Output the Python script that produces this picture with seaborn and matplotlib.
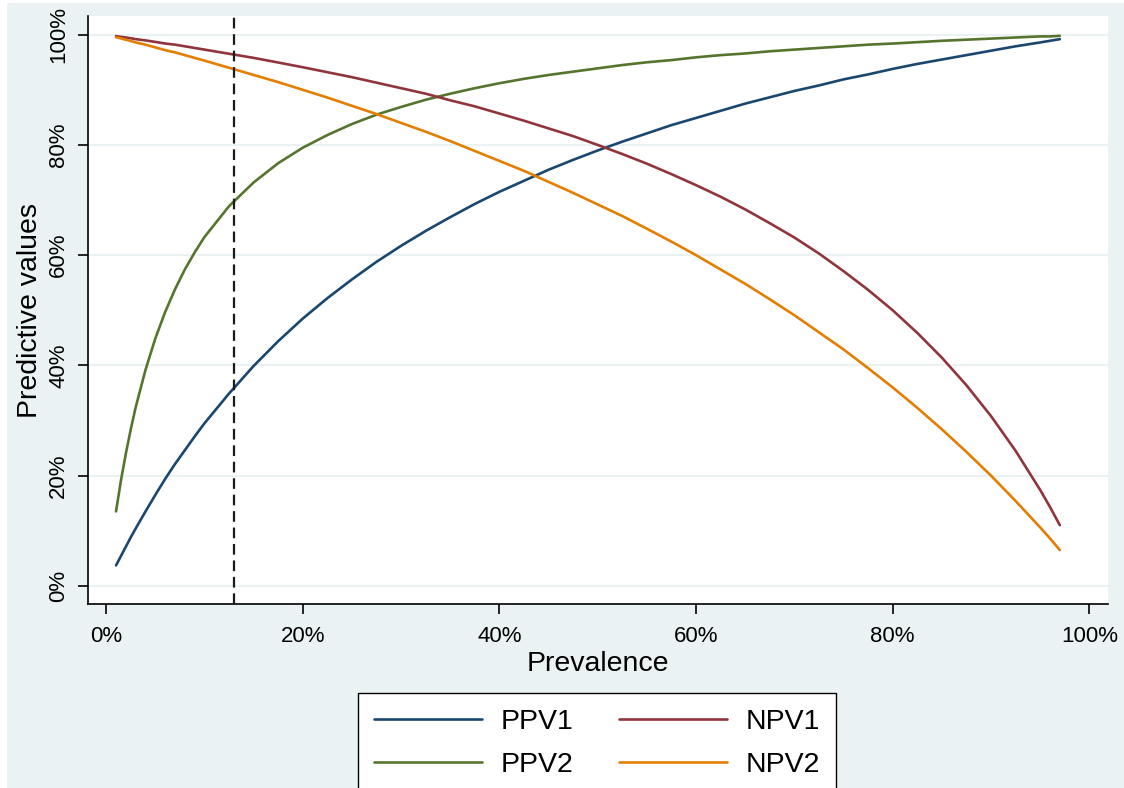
import matplotlib
matplotlib.use("Agg")
import matplotlib.pyplot as plt
from matplotlib.patches import Rectangle
from matplotlib.lines import Line2D
import seaborn as sns
import pandas as pd

# Prevalence (%) sample points
prevalence = [1, 1.5, 2, 2.5, 3, 4, 5, 6, 7, 8, 9, 10,
              12.5, 15, 17.5, 20, 22.5, 25, 27.5, 30, 32.5, 35, 37.5, 40, 42.5, 45,
              47.5, 50, 52.5, 55, 57.5, 60, 62.5, 65, 67.5, 70, 72.5, 75, 77.5, 80,
              82.5, 85, 87.5, 90, 92.5, 95, 96, 97]

ppv1 = [3.7, 5.4, 7.1, 8.8, 10.4, 13.5, 16.5, 19.4, 22.1, 24.6, 27.1, 29.5,
        34.9, 39.9, 44.4, 48.5, 52.2, 55.6, 58.8, 61.7, 64.4, 66.9, 69.3, 71.5, 73.5, 75.5,
        77.3, 79.0, 80.6, 82.1, 83.6, 84.9, 86.2, 87.5, 88.65, 89.8, 90.8, 91.9, 92.8, 93.8,
        94.7, 95.5, 96.3, 97.1, 97.9, 98.6, 98.9, 99.2]
ppv2 = [13.5, 19.1, 24.0, 28.4, 32.4, 39.2, 44.9, 49.7, 53.8, 57.4, 60.5, 63.3,
        68.9, 73.2, 76.7, 79.5, 81.8, 83.8, 85.5, 86.9, 88.2, 89.3, 90.3, 91.2, 92.0, 92.7,
        93.3, 93.9, 94.5, 95.0, 95.4, 95.9, 96.3, 96.6, 97.0, 97.3, 97.6, 97.9, 98.2, 98.4,
        98.65, 98.9, 99.1, 99.3, 99.5, 99.7, 99.7, 99.8]
npv1 = [99.75, 99.62, 99.5, 99.36, 99.2, 98.97, 98.7, 98.4, 98.2, 97.9, 97.6, 97.3,
        96.55, 95.8, 94.96, 94.1, 93.2, 92.3, 91.3, 90.3, 89.3, 88.1, 87.0, 85.7, 84.4, 83.0,
        81.6, 80.0, 78.35, 76.6, 74.7, 72.7, 70.6, 68.3, 65.8, 63.2, 60.3, 57.1, 53.7, 50.0,
        45.9, 41.4, 36.4, 30.8, 24.5, 17.4, 14.3, 11.0]
npv2 = [99.55, 99.33, 99.1, 98.87, 98.6, 98.2, 97.7, 97.2, 96.8, 96.3, 95.8, 95.3,
        94.0, 92.7, 91.4, 90.0, 88.6, 87.1, 85.6, 84.0, 82.4, 80.7, 78.9, 77.1, 75.3, 73.3,
        71.3, 69.2, 67.1, 64.8, 62.45, 60.0, 57.4, 54.8, 52.0, 49.1, 46.0, 42.9, 39.5, 36.0,
        32.3, 28.4, 24.3, 20.0, 15.4, 10.6, 8.6, 6.5]

series_names = ["PPV1", "PPV2", "NPV1", "NPV2"]
series_colors = ["#1a476f", "#55752f", "#90353b", "#e37e00"]
cutoff = 13
tick_values = [0, 20, 40, 60, 80, 100]
tick_labels = ["0%", "20%", "40%", "60%", "80%", "100%"]

frames = []
for name, vals in zip(series_names, [ppv1, ppv2, npv1, npv2]):
    frames.append(pd.DataFrame({"Prevalence": prevalence, "Value": vals, "Series": name}))
df = pd.concat(frames, ignore_index=True)

sns.set_style("white")
plt.rcParams["font.family"] = ["Liberation Sans", "DejaVu Sans"]
plt.rcParams["text.color"] = "black"
plt.rcParams["axes.labelcolor"] = "black"

W, H = 1124, 788
fig = plt.figure(figsize=(W / 100, H / 100), dpi=100)
fig.patch.set_facecolor("white")
bg = "#eaf2f3"
bg_rect = Rectangle((7 / W, 0), 1 - 7 / W, 1 - 3 / H, transform=fig.transFigure,
                    facecolor=bg, edgecolor="none", zorder=-10)
fig.add_artist(bg_rect)

ax = fig.add_axes([88 / W, (H - 604) / H, (1108 - 88) / W, (604 - 16) / H])
ax.set_facecolor("white")

sns.lineplot(data=df, x="Prevalence", y="Value", hue="Series", hue_order=series_names,
             palette=dict(zip(series_names, series_colors)), sort=False,
             linewidth=1.9, ax=ax, legend=False, zorder=3)

ax.axvline(cutoff, color="#1a1a1a", linestyle=(0, (4.8, 2.6)), linewidth=1.6, zorder=4)

ax.set_xlim(-1.85, 101.9)
ax.set_ylim(-3.3, 103.4)
ax.set_xticks(tick_values)
ax.set_xticklabels(tick_labels)
ax.set_yticks(tick_values)
ax.set_yticklabels(tick_labels, rotation=90, va="center")
ax.yaxis.grid(True, color=bg, linewidth=1.5, zorder=0)
ax.xaxis.grid(False)

for s in ["top", "right"]:
    ax.spines[s].set_visible(False)
for s in ["left", "bottom"]:
    ax.spines[s].set_color("black")
    ax.spines[s].set_linewidth(1.2)

ax.tick_params(axis="both", direction="out", length=7.5, width=1.2, color="black",
               labelsize=16, labelcolor="black", left=True, bottom=True)
ax.tick_params(axis="x", pad=8)
ax.tick_params(axis="y", pad=6)

ax.set_xlabel("Prevalence", fontsize=20.5, labelpad=3, color="black")
ax.set_ylabel("Predictive values", fontsize=20.5, labelpad=4, color="black")

handles = [Line2D([0], [0], color=c, linewidth=1.9) for c in series_colors]
leg = fig.legend(handles, series_names, loc="upper left",
                 bbox_to_anchor=(358 / W, (H - 693) / H), bbox_transform=fig.transFigure,
                 ncol=2, fontsize=20.5, frameon=True, fancybox=False, framealpha=1,
                 edgecolor="black", handlelength=3.8, handletextpad=0.65,
                 columnspacing=1.62, labelspacing=0.6, borderpad=0.55, borderaxespad=0)
leg.get_frame().set_linewidth(1.0)
leg.get_frame().set_facecolor("white")
for t in leg.get_texts():
    t.set_color("black")

fig.savefig("out.png", dpi=100, facecolor=fig.get_facecolor())
